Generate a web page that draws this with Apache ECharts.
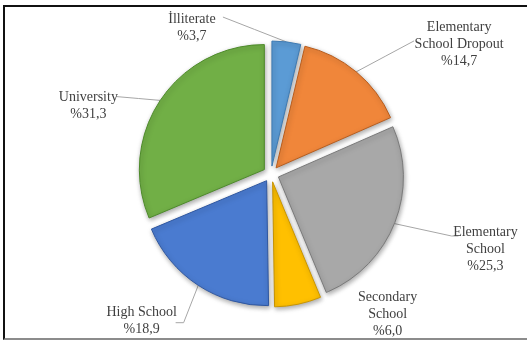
<!DOCTYPE html>
<html>
<head>
<meta charset="utf-8">
<script src="https://cdn.jsdelivr.net/npm/echarts@6/dist/echarts.min.js"></script>
<style>
  html, body { margin: 0; padding: 0; background: #fff; overflow: hidden; }
  #frame { position: absolute; left: 3px; top: 5px; width: 600px; height: 331px;
           border-top: 2px solid #111; border-left: 2px solid #111; border-bottom: 2px solid #8c8c8c; }
  #chart { position: absolute; left: 0; top: 0; width: 527px; height: 340px; }
</style>
</head>
<body>
<div id="frame"></div>
<div id="chart"></div>
<script>
// ---- data ----
const categories = ['İlliterate', 'Elementary\nSchool Dropout', 'Elementary\nSchool', 'Secondary\nSchool', 'High School', 'University'];
const shares = [3.7, 14.7, 25.3, 6.0, 18.9, 31.3];

// ---- styling / layout (not data) ----
const colors  = ['#5B9BD5', '#F0863A', '#A8A8A8', '#FFC000', '#4A7BD0', '#71AF46'];
const borders = ['#3f7bb3', '#b85c1c', '#7a7a7a', '#c99500', '#2f57a0', '#4d8a2a'];
const labelCfg = [
  { x: 191, y: 36,  end: [222, 25] },
  { x: 454, y: 50,  end: [409, 47] },
  { x: 478, y: 246, end: [451, 233], elbow: [444, 233] },
  { x: 386, y: 306, noLine: true },
  { x: 146, y: 314, end: [180, 316], elbow: [188, 316] },
  { x: 95,  y: 110, end: [123, 101] }
];

const fmt = v => '%' + v.toFixed(1).replace('.', ',');

const data = categories.map((name, i) => ({
  name: name,
  value: shares[i],
  selected: true,
  itemStyle: { color: colors[i], borderColor: borders[i] },
  labelLine: { show: !labelCfg[i].noLine }
}));

const chart = echarts.init(document.getElementById('chart'), null, { renderer: 'canvas' });
chart.setOption({
  animation: false,
  series: [{
    type: 'pie',
    center: [271, 174],
    radius: [0, 125],
    startAngle: 90,
    clockwise: true,
    selectedMode: 'multiple',
    selectedOffset: 8,
    avoidLabelOverlap: false,
    itemStyle: {
      borderWidth: 1,
      shadowBlur: 5,
      shadowColor: 'rgba(0,0,0,0.35)',
      shadowOffsetX: 1,
      shadowOffsetY: 2
    },
    label: {
      show: true,
      position: 'outside',
      alignTo: 'none',
      fontFamily: '"Liberation Serif", "Times New Roman", serif',
      fontSize: 14,
      lineHeight: 17,
      color: '#404040',
      formatter: p => p.name + '\n' + fmt(p.value)
    },
    labelLine: {
      show: true,
      length: 10,
      length2: 10,
      lineStyle: { color: '#a6a6a6', width: 1 }
    },
    emphasis: { scale: false },
    labelLayout: function (params) {
      const c = labelCfg[params.dataIndex];
      const r = params.labelRect;
      let ax = r.x;
      if (params.align === 'right') ax = r.x + r.width;
      else if (params.align === 'center') ax = r.x + r.width / 2;
      const ay = r.y + r.height / 2;
      const out = { dx: c.x - ax, dy: c.y - ay, align: 'center', verticalAlign: 'middle' };
      if (!c.noLine && params.labelLinePoints) {
        const p0 = params.labelLinePoints[0];
        out.labelLinePoints = c.elbow ? [p0, c.elbow, c.end] : [p0, [(p0[0] + c.end[0]) / 2, (p0[1] + c.end[1]) / 2], c.end];
      }
      return out;
    },
    data: data
  }]
});
</script>
</body>
</html>
